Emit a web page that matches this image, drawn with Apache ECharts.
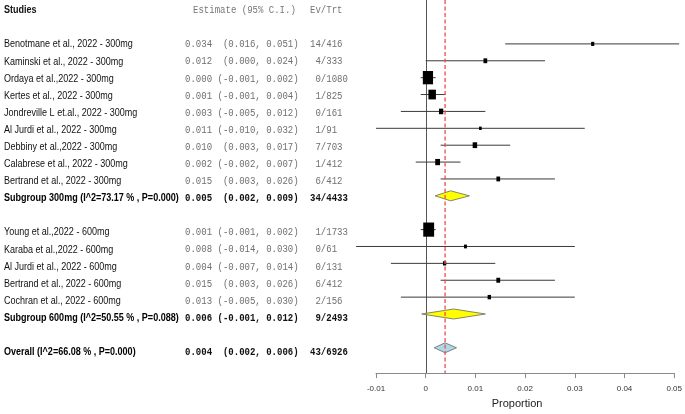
<!DOCTYPE html>
<html>
<head>
<meta charset="utf-8">
<script src="https://cdn.jsdelivr.net/npm/echarts@6/dist/echarts.min.js"></script>
<style>html,body{margin:0;padding:0;background:#fff}#c{width:685px;height:414px}</style>
</head>
<body>
<div id="c"></div>
<script>
// ---- data ----
const studies = ['Benotmane et al., 2022 - 300mg','Kaminski et al., 2022 - 300mg','Ordaya et al.,2022 - 300mg','Kertes et al., 2022 - 300mg','Jondreville L et.al., 2022 - 300mg','Al Jurdi et al., 2022 - 300mg','Debbiny et al.,2022 - 300mg','Calabrese et al., 2022 - 300mg','Bertrand et al., 2022 - 300mg','Young et al.,2022 - 600mg','Karaba et al.,2022 - 600mg','Al Jurdi et al., 2022 - 600mg','Bertrand et al., 2022 - 600mg','Cochran et al., 2022 - 600mg'];
const studyGroup = [0,0,0,0,0,0,0,0,0,1,1,1,1,1];
const estimates = [0.0336,0.0120,0.00045,0.0013,0.0031,0.0110,0.0099,0.0024,0.0146,0.0006,0.0080,0.0038,0.0146,0.0128];
const lowers = [0.016,0.000,-0.001,-0.001,-0.005,-0.010,0.003,-0.002,0.003,-0.001,-0.014,-0.007,0.003,-0.005];
const uppers = [0.051,0.024,0.002,0.004,0.012,0.032,0.017,0.007,0.026,0.002,0.030,0.014,0.026,0.030];
const events = [14,4,0,1,0,1,7,1,6,1,0,0,6,2];
const totals = [416,333,1080,825,161,91,703,412,412,1733,61,131,412,156];
const weights = [1.3,1.8,13.6,7.3,2.4,0.9,2.6,3.0,1.8,15.4,1.1,1.4,1.9,1.5];

const subLabels = ['Subgroup 300mg (I^2=73.17 % , P=0.000)','Subgroup 600mg (I^2=50.55 % , P=0.088)'];
const subEstimates = [0.0050,0.0056];
const subLowers = [0.0019,-0.0008];
const subUppers = [0.0088,0.0120];
const subEvents = [34,9];
const subTotals = [4433,2493];

const overallLabel = 'Overall (I^2=66.08 % , P=0.000)';
const overallEstimate = 0.0039, overallLower = 0.0017, overallUpper = 0.0062;
const overallEvents = 43, overallTotal = 6926;

const headers = ['Studies','Estimate (95% C.I.)','Ev/Trt'];
const xTicks = [-0.01,0,0.01,0.02,0.03,0.04,0.05];
const xAxisName = 'Proportion';
const nullValue = 0;

// ---- build rows ----
const fmtCI = (e,l,u) => e.toFixed(3) + ' ' + ('(' + l.toFixed(3) + ', ' + u.toFixed(3) + ')').padStart(15);
const fmtEv = (e,t) => String(e).padStart(2) + '/' + t;

const tableRows = []; // [row, kind, idx]
const studyRows = [];
const diamondRows = [];
tableRows.push([0,0,0]);
let r = 2;
[0,1].forEach(g => {
  studies.forEach((s,i) => {
    if (studyGroup[i] !== g) return;
    tableRows.push([r,1,i]);
    studyRows.push([estimates[i], lowers[i], uppers[i], r, weights[i]]);
    r++;
  });
  tableRows.push([r,2,g]);
  diamondRows.push([subEstimates[g], subLowers[g], subUppers[g], r, 0]);
  r += 2;
});
tableRows.push([r,3,0]);
diamondRows.push([overallEstimate, overallLower, overallUpper, r, 1]);

const Y_MIN = -0.6, Y_MAX = 21.5;

const SANS = 'Liberation Sans, Arial, sans-serif';
const MONO = 'Liberation Mono, Courier New, monospace';
const SX = 0.82;

function txt(api, x, row, text, font, color) {
  const p = api.coord([x, row]);
  return {type:'text', x:p[0], y:p[1], scaleX:SX, style:{text, font, fill:color, textAlign:'left', textVerticalAlign:'middle'}};
}

function vline(params, api) {
  const a = api.coord([api.value(0), Y_MIN]), b = api.coord([api.value(0), Y_MAX]);
  const dashed = api.value(1) === 1;
  const x = dashed ? a[0] : Math.round(a[0]) + 0.5;
  return {type:'line', shape:{x1:x, y1:a[1], x2:x, y2:b[1]},
    style:{stroke: api.visual('color'), lineWidth: dashed ? 1.3 : 1, lineDash: dashed ? [4,2.5] : null}};
}

const chart = echarts.init(document.getElementById('c'), null, {renderer:'canvas'});
chart.setOption({
  animation:false,
  grid:[
    {left:0, width:685, top:0, height:377.7},
    {left:376, right:6.7, top:0, height:377.7}
  ],
  xAxis:[
    {gridIndex:0, type:'value', min:0, max:685, show:false},
    {gridIndex:1, type:'value', position:'bottom', min:-0.01, max:0.05, interval:0.01,
     splitLine:{show:false},
     axisLine:{show:true, onZero:false, lineStyle:{color:'#8a8a8a', width:1}},
     axisTick:{show:true, length:5, lineStyle:{color:'#8a8a8a'}},
     axisLabel:{fontSize:8, color:'#333', margin:12, fontFamily:'Liberation Sans, Arial, sans-serif',
       formatter: v => { const t = +v.toFixed(2); return xTicks.includes(t) ? (t===0?'0':String(t)) : ''; }},
     name:xAxisName, nameLocation:'middle', nameGap:24,
     nameTextStyle:{fontSize:11, color:'#222', fontFamily:'Liberation Sans, Arial, sans-serif', padding:[0,16,0,0]}}
  ],
  yAxis:[
    {gridIndex:0, type:'value', min:Y_MIN, max:Y_MAX, inverse:true, show:false},
    {gridIndex:1, type:'value', min:Y_MIN, max:Y_MAX, inverse:true, show:false}
  ],
  series:[
    {
      type:'custom', xAxisIndex:0, yAxisIndex:0, clip:false, silent:true,
      data: tableRows,
      encode:{y:0},
      renderItem:(params, api) => {
        const row = api.value(0), kind = api.value(1), i = api.value(2);
        const F = (b,m,sz) => (b?'bold ':'') + sz + 'px ' + (m?MONO:SANS);
        let c = [];
        if (kind === 0) {
          c.push(txt(api, 4, row, headers[0], F(true,false,11), '#111'));
          c.push(txt(api, 193, row, headers[1], F(false,true,11), '#777'));
          c.push(txt(api, 310, row, headers[2], F(false,true,11), '#777'));
        } else if (kind === 1) {
          c.push(txt(api, 4, row, studies[i], F(false,false,11), '#111'));
          c.push(txt(api, 185, row, fmtCI(estimates[i], lowers[i], uppers[i]), F(false,true,11), '#6f6f6f'));
          c.push(txt(api, 310, row, fmtEv(events[i], totals[i]), F(false,true,11), '#6f6f6f'));
        } else if (kind === 2) {
          c.push(txt(api, 4, row, subLabels[i], F(true,false,11), '#000'));
          c.push(txt(api, 185, row, fmtCI(subEstimates[i], subLowers[i], subUppers[i]), F(true,true,11), '#111'));
          c.push(txt(api, 310, row, fmtEv(subEvents[i], subTotals[i]), F(true,true,11), '#111'));
        } else {
          c.push(txt(api, 4, row, overallLabel, F(true,false,11), '#000'));
          c.push(txt(api, 185, row, fmtCI(overallEstimate, overallLower, overallUpper), F(true,true,11), '#111'));
          c.push(txt(api, 310, row, fmtEv(overallEvents, overallTotal), F(true,true,11), '#111'));
        }
        return {type:'group', children:c};
      }
    },
    {
      // null line at 0
      type:'custom', xAxisIndex:1, yAxisIndex:1, clip:false, silent:true, z:2,
      itemStyle:{color:'#555'},
      data: [[nullValue, 0]],
      encode:{x:0},
      renderItem: vline
    },
    {
      // overall estimate reference line
      type:'custom', xAxisIndex:1, yAxisIndex:1, clip:false, silent:true, z:5,
      itemStyle:{color:'#f24c4c'},
      data: [[overallEstimate, 1]],
      encode:{x:0},
      renderItem: vline
    },
    {
      type:'custom', xAxisIndex:1, yAxisIndex:1, clip:false, silent:true, z:3,
      data: studyRows,
      encode:{x:[0,1,2], y:3},
      renderItem:(params, api) => {
        const row = api.value(3);
        const a = api.coord([api.value(1), row]), b = api.coord([api.value(2), row]), m = api.coord([api.value(0), row]);
        const area = api.value(4) * 10;
        const w = Math.sqrt(area/1.3), h = w*1.3;
        return {type:'group', children:[
          {type:'line', shape:{x1:a[0], y1:a[1], x2:b[0], y2:b[1]}, style:{stroke:'#3a3a3a', lineWidth:1}},
          {type:'rect', shape:{x:m[0]-w/2, y:m[1]-h/2, width:w, height:h}, style:{fill:'#000'}}
        ]};
      }
    },
    {
      type:'custom', xAxisIndex:1, yAxisIndex:1, clip:false, silent:true, z:4,
      data: diamondRows,
      encode:{x:[0,1,2], y:3},
      renderItem:(params, api) => {
        const row = api.value(3);
        const a = api.coord([api.value(1), row]), b = api.coord([api.value(2), row]), m = api.coord([api.value(0), row]);
        const hh = 5;
        return {type:'polygon', shape:{points:[[a[0],m[1]],[m[0],m[1]-hh],[b[0],m[1]],[m[0],m[1]+hh]]},
          style:{fill: api.value(4) ? '#add8e6' : '#ffff00', stroke:'#666', lineWidth:0.8}};
      }
    }
  ]
});
</script>
</body>
</html>
